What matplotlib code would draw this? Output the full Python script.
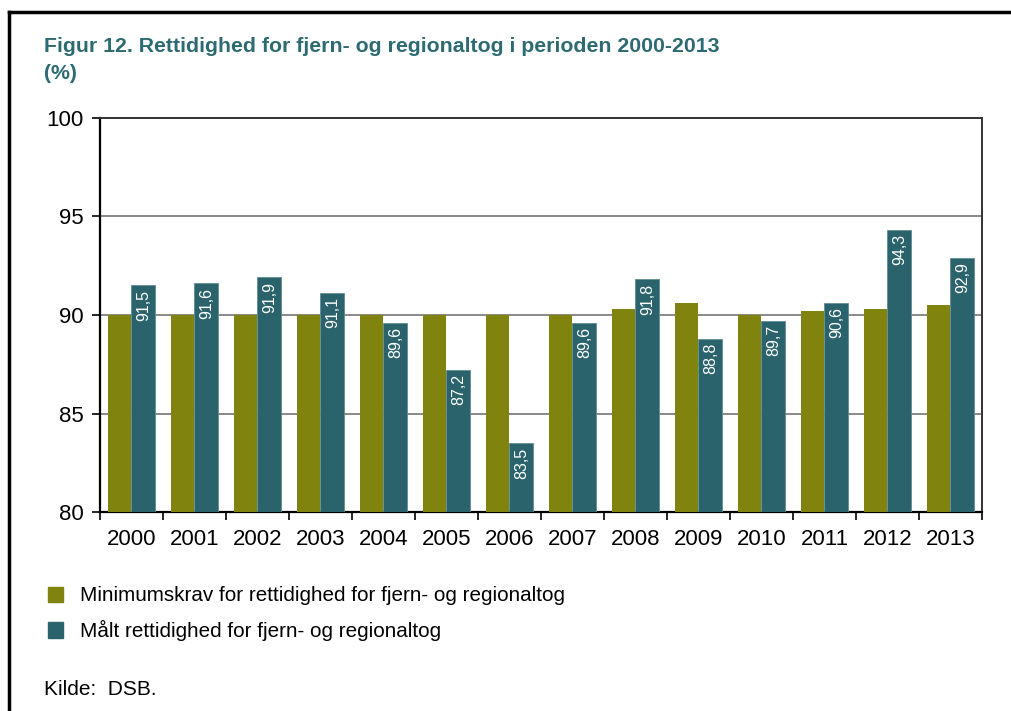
"""Rettidighed for fjern- og regionaltog 2000-2013."""

import matplotlib
matplotlib.use("Agg")
import matplotlib.pyplot as plt
from matplotlib.lines import Line2D
from matplotlib.patches import Patch
import numpy as np

years = ["2000", "2001", "2002", "2003", "2004", "2005", "2006",
         "2007", "2008", "2009", "2010", "2011", "2012", "2013"]
minimum = [90.0, 90.0, 90.0, 90.0, 90.0, 90.0, 90.0,
           90.0, 90.3, 90.6, 90.0, 90.2, 90.3, 90.5]
measured = [91.5, 91.6, 91.9, 91.1, 89.6, 87.2, 83.5,
            89.6, 91.8, 88.8, 89.7, 90.6, 94.3, 92.9]

OLIVE = "#80830e"
TEAL = "#2b636c"
TITLE = "#2d6b72"

plt.rcParams["font.family"] = ["Liberation Sans", "DejaVu Sans"]

fig = plt.figure(figsize=(10.11, 7.11), dpi=100)
ax = fig.add_axes([0.0989, 0.2792, 0.8724, 0.5555])

x = np.arange(len(years))
w = 0.38
ax.bar(x - w / 2, minimum, w, color=OLIVE, zorder=3)
ax.bar(x + w / 2, measured, w, color=TEAL, edgecolor="#5f8d93",
       linewidth=0.6, zorder=3)

for xi, v in zip(x, measured):
    ax.annotate(f"{v:.1f}".replace(".", ","), (xi + w / 2, v),
                xytext=(0, -3), textcoords="offset points",
                rotation=90, ha="center", va="top",
                color="white", fontsize=11.5, zorder=4)

ax.set_ylim(80, 100)
ax.set_xlim(-0.5, len(years) - 0.5)
ax.set_yticks([80, 85, 90, 95, 100])
ax.yaxis.grid(True, color="#808080", linewidth=1.3, zorder=0)
ax.set_xticks(x)
ax.set_xticklabels(years)
ax.set_xticks(np.arange(-0.5, len(years)), minor=True)
ax.tick_params(axis="x", which="major", length=0, pad=12, labelsize=16)
ax.tick_params(axis="x", which="minor", length=6, width=1.2, direction="out")
ax.tick_params(axis="y", length=6, width=1.2, pad=6, labelsize=16)

for side in ["left", "bottom"]:
    ax.spines[side].set_color("black")
    ax.spines[side].set_linewidth(1.6)
for side in ["top", "right"]:
    ax.spines[side].set_color("#333333")
    ax.spines[side].set_linewidth(1.4)

fig.text(0.0435, 0.934, "Figur 12. Rettidighed for fjern- og regionaltog i perioden 2000-2013",
         color=TITLE, fontsize=15.3, fontweight="bold", va="center")
fig.text(0.0435, 0.896, "(%)", color=TITLE, fontsize=15.3,
         fontweight="bold", va="center")

handles = [Patch(color=OLIVE), Patch(color=TEAL)]
labels = ["Minimumskrav for rettidighed for fjern- og regionaltog",
          "Målt rettidighed for fjern- og regionaltog"]
fig.legend(handles, labels, loc="upper left", bbox_to_anchor=(0.039, 0.187),
           frameon=False, fontsize=14.9, handlelength=0.75, handleheight=0.75,
           handletextpad=0.8, labelspacing=0.72, borderaxespad=0)

fig.text(0.0435, 0.030, "Kilde:  DSB.", fontsize=15, va="center")

# frame of the original page, cut off at right and bottom
fig.add_artist(Line2D([0.009, 1.0], [0.983, 0.983], color="black", linewidth=2.5))
fig.add_artist(Line2D([0.009, 0.009], [0.0, 0.983], color="black", linewidth=2.5))

fig.savefig("out.png", dpi=100)
